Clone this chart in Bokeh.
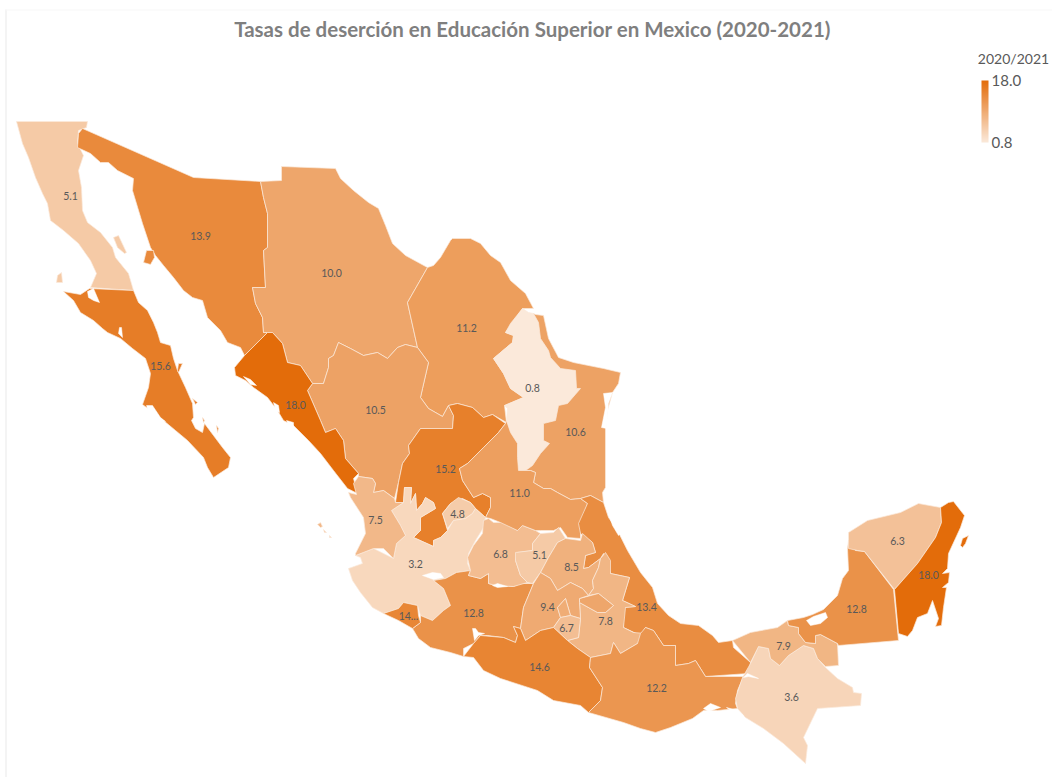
from bokeh.core.properties import value
from bokeh.embed import file_html
from bokeh.models import (BoxAnnotation, ColorBar, ColumnDataSource, FixedTicker, Label,
                          LinearColorMapper, PrintfTickFormatter, Range1d)
from bokeh.plotting import figure
from bokeh.resources import INLINE

TITLE = "Tasas de deserción en Educación Superior en Mexico (2020-2021)"
LEGEND_TITLE = "2020/2021"
FONT = "Lato"
VALUE_MIN = 0.8
VALUE_MAX = 18.0

# Dropout rate per state, 2020/2021
rates = {
    "Baja California": 5.1, "Baja California Sur": 15.6, "Sonora": 13.9, "Chihuahua": 10.0,
    "Coahuila": 11.2, "Nuevo León": 0.8, "Tamaulipas": 10.6, "Durango": 10.5, "Sinaloa": 18.0,
    "Zacatecas": 15.2, "Aguascalientes": 4.8, "Jalisco": 3.2, "Nayarit": 7.5, "Michoacán": 12.8,
    "Colima": 14.4, "Guanajuato": 6.8, "San Luis Potosí": 11.0, "Veracruz": 13.4,
    "Querétaro": 5.1, "Hidalgo": 8.5, "Puebla": 7.8, "Tlaxcala": 10.0, "México": 9.4,
    "Ciudad de México": 9.0, "Morelos": 6.7, "Guerrero": 14.6, "Oaxaca": 12.2, "Chiapas": 3.6,
    "Tabasco": 7.9, "Campeche": 12.8, "Yucatán": 6.3, "Quintana Roo": 18.0,
}

# Map-space outlines of each state
baja_california = [(16,121),(87,121),(86,127),(78,130),(77,143),(83,155),(78,170),(81,187),(82,210),(87,222),(100,232),(112,247),(115,257),(128,273),(133,290),(90,287),(96,273),(90,260),(78,243),(63,230),(50,220),(47,203),(42,193),(35,177),(28,157),(22,143)]
guarda_island = [(113,237),(118,235),(126,252),(124,253),(117,247)]
cedros_island = [(57,275),(61,272),(62,282),(56,282)]
baja_california_sur = [(63,291),(80,294),(89,288),(133,290),(138,302),(147,310),(153,322),(157,332),(160,342),(170,345),(173,358),(177,370),(185,387),(192,403),(193,417),(191,420),(195,428),(202,432),(204,423),(213,435),(222,447),(230,457),(228,467),(213,477),(207,467),(203,457),(187,440),(175,430),(163,420),(150,410),(142,404),(148,387),(150,373),(145,358),(132,348),(120,338),(107,332),(102,328),(93,320),(80,312),(73,300)]
carmen_island = [(178,363),(182,363),(178,372),(177,370)]
san_jose_island = [(192,398),(197,402),(195,404)]
espiritu_santo_island = [(216,425),(218,428),(217,432)]
monserrat_island = [(202,417),(204,420),(203,422)]
sonora = [(82,128),(193,177),(260,181),(263,197),(267,213),(267,247),(263,250),(265,287),(252,287),(255,303),(262,317),(263,332),(267,332),(244,355),(240,347),(227,342),(220,330),(207,317),(202,300),(192,297),(183,290),(173,277),(163,265),(155,255),(150,247),(142,223),(132,190),(133,178),(117,170),(108,162),(100,162),(90,153),(77,147),(78,133)]
tiburon_island = [(146,250),(153,250),(154,257),(150,264),(143,262)]
chihuahua = [(260,181),(281,180),(281,166),(335,168),(340,178),(353,190),(368,202),(378,208),(385,225),(392,243),(405,255),(427,267),(407,302),(417,347),(405,344),(397,347),(387,358),(377,352),(363,355),(350,348),(338,342),(333,355),(328,358),(328,367),(323,383),(312,383),(300,365),(287,362),(282,343),(272,332),(263,332),(262,317),(255,303),(252,287),(265,287),(263,250),(267,247),(267,213),(263,197)]
coahuila = [(427,267),(433,265),(440,257),(450,240),(452,238),(470,238),(480,243),(490,255),(500,262),(510,280),(525,293),(533,308),(522,308),(505,332),(513,335),(512,342),(493,358),(503,373),(510,388),(523,397),(504,405),(506,422),(492,414),(483,417),(472,407),(457,403),(448,405),(442,416),(428,408),(420,397),(422,388),(428,362),(417,347),(407,302)]
nuevo_leon = [(522,308),(528,312),(533,313),(538,322),(540,338),(548,350),(550,357),(560,368),(575,370),(576,388),(580,388),(567,403),(558,405),(555,420),(543,423),(543,440),(549,443),(540,453),(532,465),(525,470),(518,470),(517,457),(517,443),(510,432),(506,420),(507,408),(504,405),(523,397),(510,388),(503,373),(493,358),(512,342),(513,335),(505,332),(510,323)]
tamaulipas = [(535,314),(543,315),(548,338),(558,357),(573,362),(603,368),(620,372),(618,383),(612,392),(607,410),(605,428),(605,487),(602,492),(603,502),(590,495),(580,498),(570,499),(557,492),(550,488),(543,488),(533,482),(535,472),(530,470),(525,470),(532,465),(540,453),(549,443),(543,440),(543,423),(555,420),(558,405),(567,403),(580,388),(576,388),(575,370),(560,368),(550,357),(548,350),(540,338),(538,322),(533,313)]
durango = [(338,342),(350,348),(363,355),(377,352),(387,358),(397,347),(405,344),(417,347),(428,362),(422,388),(420,397),(428,408),(442,416),(448,405),(453,415),(452,428),(420,428),(408,445),(409,453),(402,463),(398,482),(394,498),(383,490),(373,492),(375,483),(372,478),(358,476),(358,473),(345,458),(343,440),(335,428),(325,432),(320,420),(307,390),(312,383),(323,383),(328,367),(328,358),(333,355)]
sinaloa = [(272,332),(282,343),(287,362),(300,365),(312,383),(307,390),(320,420),(325,432),(335,428),(343,440),(345,458),(358,473),(353,478),(357,493),(347,488),(333,470),(320,453),(308,440),(293,425),(283,420),(277,410),(267,397),(253,387),(245,380),(235,375),(234,367),(244,355),(267,332)]
zacatecas = [(448,405),(457,403),(472,407),(483,417),(492,414),(505,423),(498,432),(483,447),(467,463),(459,468),(462,480),(473,497),(482,493),(490,497),(490,507),(485,517),(475,508),(470,502),(462,498),(450,503),(442,513),(447,530),(440,537),(433,540),(433,546),(413,537),(420,530),(420,517),(435,508),(433,502),(425,497),(422,503),(416,510),(415,493),(410,503),(411,487),(404,487),(403,502),(395,502),(398,482),(402,463),(409,453),(408,445),(420,428),(452,428),(453,415)]
aguascalientes = [(442,513),(450,503),(458,497),(470,502),(475,508),(472,513),(465,518),(453,520),(447,528)]
jalisco = [(391,510),(403,502),(404,487),(411,487),(410,503),(415,493),(416,510),(422,503),(425,497),(433,502),(435,508),(420,517),(420,530),(413,537),(433,546),(433,540),(440,537),(447,530),(453,520),(465,518),(472,513),(475,508),(485,517),(483,527),(475,540),(468,553),(467,563),(470,570),(456,572),(445,578),(433,580),(443,588),(450,605),(443,610),(432,620),(420,615),(417,605),(403,602),(398,608),(383,613),(372,607),(360,592),(352,580),(348,568),(362,563),(360,557),(355,555),(373,548),(393,558),(396,543),(405,535),(400,525)]
nayarit = [(358,476),(372,478),(375,483),(373,492),(383,490),(394,498),(395,502),(403,502),(391,510),(400,525),(405,535),(396,543),(393,558),(383,548),(373,548),(355,555),(355,553),(365,533),(363,517),(350,497),(348,492),(356,494),(353,483)]
maria_madre_island = [(317,524),(320,522),(322,526),(320,527)]
maria_magdalena_island = [(323,529),(326,532),(324,532)]
maria_cleofas_island = [(329,535),(331,537),(329,537)]
michoacan = [(445,578),(456,572),(470,570),(468,575),(480,578),(488,573),(488,583),(495,585),(513,586),(520,583),(533,583),(523,607),(520,628),(513,626),(517,635),(515,642),(503,637),(487,635),(480,635),(473,643),(463,648),(463,656),(450,652),(430,647),(418,638),(412,628),(420,622),(420,615),(432,620),(443,610),(450,605),(443,588),(433,580)]
colima = [(383,613),(398,608),(403,602),(417,605),(418,615),(420,622),(412,628),(398,620)]
guanajuato = [(483,520),(488,518),(493,522),(503,522),(517,530),(522,525),(535,530),(540,533),(532,543),(532,550),(517,552),(515,560),(520,575),(527,582),(513,586),(495,585),(488,583),(488,573),(480,578),(468,575),(470,570),(467,557),(473,545),(482,533)]
san_luis_potosi = [(505,423),(498,432),(483,447),(467,463),(459,468),(462,480),(473,497),(482,493),(490,497),(490,507),(485,517),(490,518),(500,522),(517,530),(522,525),(535,530),(540,530),(553,530),(560,527),(567,537),(580,538),(580,523),(587,503),(580,498),(570,499),(557,492),(550,488),(543,488),(533,482),(535,472),(530,470),(518,470),(517,457),(517,443),(510,432),(506,420)]
veracruz = [(580,498),(590,495),(603,502),(608,517),(617,530),(627,550),(640,572),(652,587),(657,603),(668,615),(680,623),(698,625),(712,635),(718,642),(732,640),(733,647),(750,662),(748,673),(705,676),(695,660),(688,663),(675,665),(675,645),(663,645),(653,630),(645,627),(640,635),(623,627),(623,607),(635,606),(622,600),(629,577),(610,573),(608,567),(603,553),(600,558),(588,567),(583,568),(585,555),(595,552),(592,542),(580,533),(578,523),(587,503)]
queretaro = [(515,552),(532,550),(532,543),(540,533),(553,532),(558,527),(565,538),(557,542),(548,557),(540,572),(532,583),(527,582),(520,575),(515,560)]
hidalgo = [(565,538),(580,540),(582,533),(592,542),(595,552),(585,555),(583,568),(588,567),(600,558),(598,567),(592,580),(593,588),(588,595),(582,588),(570,582),(557,590),(550,578),(540,572),(548,557),(557,542)]
puebla = [(605,552),(610,560),(610,573),(629,577),(622,600),(635,606),(625,607),(623,627),(633,632),(645,633),(637,643),(620,653),(613,642),(610,653),(590,657),(577,648),(567,640),(578,637),(580,618),(579,602),(597,612),(605,612),(613,605),(598,593),(588,595),(593,588),(592,580),(598,567),(600,558)]
tlaxcala = [(579,598),(598,593),(613,605),(605,612),(597,612),(579,602)]
estado_de_mexico = [(540,572),(550,578),(557,590),(570,582),(582,588),(588,595),(579,598),(579,602),(580,618),(570,615),(565,598),(557,607),(560,617),(553,627),(540,630),(525,640),(520,628),(523,607),(533,583)]
ciudad_de_mexico = [(557,607),(565,598),(570,615),(560,617)]
morelos = [(553,627),(560,617),(570,615),(580,618),(578,637),(567,640)]
guerrero = [(463,656),(473,643),(480,635),(503,637),(515,642),(517,635),(513,626),(520,628),(525,640),(540,630),(553,627),(567,640),(577,648),(590,657),(589,667),(602,687),(600,700),(588,712),(580,705),(553,700),(537,690),(500,678),(483,670),(473,657)]
oaxaca = [(590,657),(610,653),(613,642),(620,653),(637,643),(640,633),(645,627),(653,630),(663,645),(675,645),(675,665),(688,663),(695,660),(705,676),(743,676),(737,690),(735,703),(737,708),(717,710),(703,710),(692,718),(670,727),(655,732),(640,728),(623,722),(588,712),(600,700),(602,687),(589,667)]
chiapas = [(758,646),(768,648),(770,658),(779,665),(788,655),(803,645),(813,648),(817,658),(825,667),(837,678),(852,687),(853,692),(861,693),(860,705),(817,708),(803,737),(807,745),(805,763),(783,743),(763,728),(745,717),(737,708),(735,698),(742,677),(750,663)]
tabasco = [(732,640),(750,632),(777,627),(787,620),(788,625),(798,627),(798,633),(805,642),(815,643),(815,635),(820,634),(837,643),(838,665),(825,666),(817,658),(813,648),(803,645),(788,655),(779,665),(770,658),(768,648),(758,646),(750,662)]
campeche = [(787,620),(803,617),(812,614),(823,609),(837,595),(842,578),(848,570),(847,548),(848,540),(855,550),(864,551),(893,589),(898,640),(838,645),(837,643),(820,634),(815,635),(815,643),(805,642),(798,633),(798,627),(788,625)]
yucatan = [(848,540),(848,532),(867,520),(900,512),(918,503),(940,507),(941,522),(935,537),(917,563),(894,589),(864,551),(857,550),(848,548)]
quintana_roo = [(940,507),(948,502),(953,501),(964,515),(960,527),(948,553),(947,568),(942,573),(949,572),(948,582),(942,587),(946,587),(943,607),(941,625),(935,626),(938,618),(932,600),(927,613),(917,617),(912,630),(907,636),(898,633),(894,589),(917,563),(935,537),(941,522)]
cozumel_island = [(960,545),(962,538),(968,535),(965,543),(962,547)]

outlines = [
    ("Baja California", baja_california), ("Baja California", guarda_island), ("Baja California", cedros_island),
    ("Baja California Sur", baja_california_sur), ("Baja California Sur", carmen_island),
    ("Baja California Sur", san_jose_island), ("Baja California Sur", espiritu_santo_island),
    ("Baja California Sur", monserrat_island), ("Sonora", sonora), ("Sonora", tiburon_island),
    ("Chihuahua", chihuahua), ("Coahuila", coahuila), ("Nuevo León", nuevo_leon), ("Tamaulipas", tamaulipas),
    ("Durango", durango), ("Sinaloa", sinaloa), ("Zacatecas", zacatecas), ("Aguascalientes", aguascalientes),
    ("Jalisco", jalisco), ("Nayarit", nayarit), ("Nayarit", maria_madre_island),
    ("Nayarit", maria_magdalena_island), ("Nayarit", maria_cleofas_island), ("Michoacán", michoacan), ("Colima", colima),
    ("Guanajuato", guanajuato), ("San Luis Potosí", san_luis_potosi), ("Veracruz", veracruz),
    ("Querétaro", queretaro), ("Hidalgo", hidalgo), ("Puebla", puebla), ("Tlaxcala", tlaxcala),
    ("México", estado_de_mexico), ("Ciudad de México", ciudad_de_mexico), ("Morelos", morelos),
    ("Guerrero", guerrero), ("Oaxaca", oaxaca), ("Chiapas", chiapas), ("Tabasco", tabasco),
    ("Campeche", campeche), ("Yucatán", yucatan), ("Quintana Roo", quintana_roo), ("Quintana Roo", cozumel_island),
]

# Lakes and lagoons that sit on top of the states
water_bodies = [
    [(603,393),(612,392),(608,403),(606,428),(601,427),(605,407)],
    [(422,575),(432,572),(440,573),(443,577),(433,579)],
    [(472,628),(475,628),(478,632),(484,633),(478,635),(474,640)],
    [(492,585),(497,583),(507,586),(497,587)],
    [(703,708),(710,703),(720,707),(708,711)],
    [(726,707),(737,710),(743,715),(733,712)],
    [(743,677),(747,673),(758,678),(748,676)],
    [(806,620),(813,616),(825,612),(827,617),(820,623),(810,625)],
    [(610,519),(617,527),(620,533),(618,535),(612,525)],
    [(87,291),(93,288),(99,302),(93,300),(88,297)],
    [(119,327),(121,327),(122,337),(118,333)],
    [(146,405),(152,405),(160,417),(165,421),(155,418),(148,412)],
    [(243,376),(250,379),(256,385),(250,384)],
    [(273,402),(278,405),(279,412),(275,410)],
    [(286,420),(293,422),(293,426),(288,424)],
]

# Data labels: text and anchor, one per labelled state
label_texts = ["5.1","13.9","10.0","11.2","15.6","18.0","10.5","0.8","10.6","15.2","11.0","7.5","4.8","3.2","6.8","5.1","8.5","9.4","6.7","7.8","12.8","13.4","14...","14.6","12.2","7.9","3.6","12.8","18.0","6.3"]
label_xs = [70,200,331,466,160,295,375,532,575,445,519,375,457,415,500,539,571,547,566,605,473,646,408,539,656,783,791,856,928,897]
label_ys = [195,235,272,327,365,404,409,387,431,468,492,519,513,563,553,554,566,606,627,620,612,606,615,666,687,645,696,608,574,540]

LOW_RGB = (251, 233, 218)
HIGH_RGB = (227, 108, 10)
palette = ["#%02x%02x%02x" % tuple(round(a + (b - a) * i / 255) for a, b in zip(LOW_RGB, HIGH_RGB)) for i in range(256)]
mapper = LinearColorMapper(palette=palette, low=VALUE_MIN, high=VALUE_MAX)

p = figure(width=1052, height=777, output_backend="svg", toolbar_location=None,
           x_range=Range1d(0, 1052), y_range=Range1d(777, 0), min_border=0)
p.axis.visible = False
p.grid.visible = False
p.outline_line_color = None

# Faint frame along the left and top of the chart area
p.add_layout(BoxAnnotation(left=5, right=6, top=9, bottom=777, fill_color="#e9e9e9", fill_alpha=1, line_color=None))
p.add_layout(BoxAnnotation(left=5, right=1052, top=9, bottom=10, fill_color="#f8f8f8", fill_alpha=1, line_color=None))

states = ColumnDataSource(dict(
    xs=[[pt[0] for pt in pts] for _, pts in outlines],
    ys=[[pt[1] for pt in pts] for _, pts in outlines],
    state=[name for name, _ in outlines],
    rate=[rates[name] for name, _ in outlines],
))
p.patches("xs", "ys", source=states, fill_color={"field": "rate", "transform": mapper},
          line_color="#fbeadb", line_width=0.7)
p.patches([[pt[0] for pt in w] for w in water_bodies], [[pt[1] for pt in w] for w in water_bodies],
          fill_color="white", line_color="white", line_width=0.5)

p.text(label_xs, label_ys, text=label_texts, text_font=value(FONT), text_font_size="10.5px",
       text_color="#595959", text_align="center", text_baseline="middle")

p.add_layout(Label(x=532, y=28, text=TITLE, text_font=FONT, text_font_style="bold", text_font_size="20.5px",
                   text_color="#7f7f7f", text_align="center", text_baseline="middle"))
p.add_layout(Label(x=1013, y=58, text=LEGEND_TITLE, text_font=FONT, text_font_size="14px",
                   text_color="#595959", text_align="center", text_baseline="middle"))

bar = ColorBar(color_mapper=mapper, ticker=FixedTicker(ticks=[VALUE_MIN, VALUE_MAX]),
               formatter=PrintfTickFormatter(format="%.1f"), width=7, height=62,
               location=(981, 635), major_tick_line_color=None, bar_line_color=None,
               major_label_text_font=FONT, major_label_text_font_size="15px", major_label_text_color="#595959",
               background_fill_alpha=0, border_line_color=None, padding=0, label_standoff=3)
p.add_layout(bar)

open("out.html", "w").write(file_html(p, INLINE))
